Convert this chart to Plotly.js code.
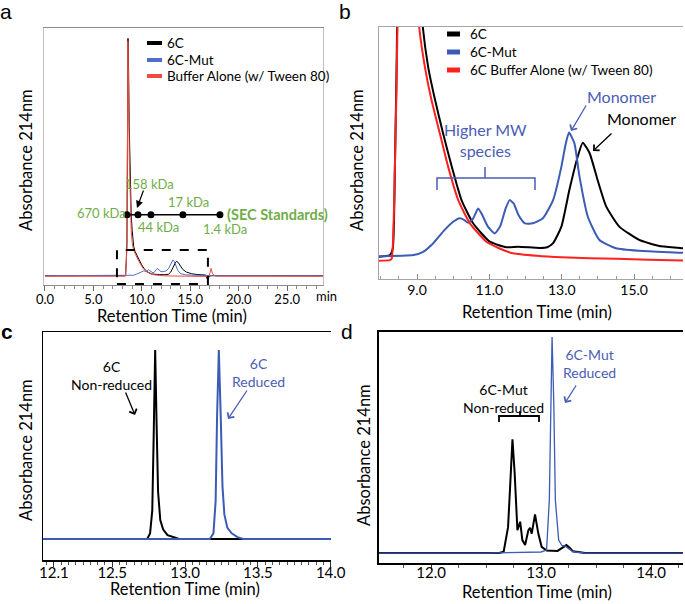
<!DOCTYPE html>
<html><head><meta charset="utf-8">
<script src="https://cdn.plot.ly/plotly-3.0.1.min.js"></script>
<style>html,body{margin:0;padding:0;background:#fff}#chart{width:685px;height:604px}</style>
</head><body><div id="chart"></div>
<script>
// ---------- Panels a & b : SEC chromatograms (same runs) ----------
const t6C = [0, 8.25, 8.33, 8.39, 8.46, 8.52, 8.57, 8.63, 8.7, 8.8, 8.9, 9.0, 9.08, 9.16, 9.31, 9.5, 9.72, 9.96, 10.23, 10.55, 11.01, 11.47, 11.8, 12.39, 12.6, 12.76, 12.99, 13.21, 13.44, 13.58, 13.77, 13.99, 14.23, 14.59, 15.14, 15.69, 16.34, 16.6, 16.8, 16.95, 17.2, 28.8];
const a6C = [9.5, 9.5, 12, 45, 110, 450, 745, 650, 470, 300, 200, 150, 118, 100, 84, 71, 57.8, 44.6, 31.3, 22.1, 14.8, 12.6, 12.8, 12.3, 12.6, 14.2, 20.8, 35.3, 48.5, 54.1, 49.9, 39.3, 28.7, 20.8, 15.5, 13.1, 12.2, 11.5, -5, 8, 9.5, 9.5];

const tMut = [0, 8.9, 9.17, 9.45, 9.72, 10.0, 10.18, 10.3, 10.41, 10.55, 10.69, 10.8, 10.95, 11.15, 11.3, 11.45, 11.56, 11.67, 11.8, 11.98, 12.2, 12.48, 12.76, 12.99, 13.1, 13.2, 13.35, 13.49, 13.72, 14.04, 14.5, 15.14, 16.34, 16.8, 17.1, 28.8];
const aMut = [9.5, 9.5, 10.8, 14.2, 18.8, 22.7, 24.1, 23.5, 22.3, 24, 28.0, 25.5, 21, 18.1, 21, 28, 31.3, 30, 25.5, 22.1, 22.1, 24.1, 31.3, 44.6, 53, 58.1, 53.8, 40.6, 24.7, 15.5, 12.2, 11.2, 10.4, 10, 9.5, 9.5];

const tBuf = [0, 8.25, 8.30, 8.39, 8.46, 8.52, 8.56, 8.62, 8.7, 8.8, 8.9, 9.0, 9.06, 9.22, 9.40, 9.63, 9.86, 10.14, 10.46, 10.92, 11.3, 11.65, 12.3, 12.99, 14.5, 16.34, 16.9, 17.05, 17.15, 17.3, 17.6, 28.8];
const aBuf = [7.5, 7.5, 8, 44.6, 100, 430, 735, 620, 380, 220, 150, 112, 100, 84, 71, 57.8, 44.6, 31.3, 22.1, 14.8, 12, 10.2, 9.2, 8.6, 8, 7.3, 7, 20, 32, 15, 8, 7.5];

// SEC standards
const stdTimes = [8.46, 9.6, 10.94, 14.24, 18.06];
const stdLevel = [198, 198, 198, 198, 198];
const stdLabels = ['670 kDa', '158 kDa', '44 kDa', '17 kDa', '1.4 kDa'];

const legendA = ['6C', '6C-Mut', 'Buffer Alone (w/ Tween 80)'];
const legendB = ['6C', '6C-Mut', '6C Buffer Alone (w/ Tween 80)'];

// ---------- Panel c : 6C non-reduced vs reduced ----------
const tC_non = [12.025, 12.3, 12.6, 12.74, 12.76, 12.775, 12.785, 12.795, 12.805, 12.815, 12.83, 12.85, 12.88, 12.92, 12.96, 13.3, 13.7, 14.002];
const aC_non = [0, 0, 0, 0, 3, 15, 55, 100, 60, 25, 10, 5, 2, 0.8, 0, 0, 0, 0];
const tC_red = [12.025, 12.5, 13.0, 13.17, 13.195, 13.21, 13.22, 13.232, 13.245, 13.257, 13.27, 13.29, 13.32, 13.36, 13.40, 13.7, 14.002];
const aC_red = [0, 0, 0, 0, 3, 20, 65, 100, 65, 28, 13, 6, 3, 1, 0, 0, 0];
const ticksC = [12.1, 12.5, 13.0, 13.5, 14.0];
const tickTextC = ['12.1', '12.5', '13.0', '13.5', '14.0'];

// ---------- Panel d : 6C-Mut non-reduced vs reduced ----------
const tD_non = [11.527, 12.0, 12.4, 12.62, 12.66, 12.69, 12.70, 12.72, 12.74, 12.76, 12.785, 12.81, 12.83, 12.855, 12.885, 12.90, 12.915, 12.945, 12.975, 13.005, 13.05, 13.15, 13.2, 13.23, 13.26, 13.29, 13.4, 14.29];
const aD_non = [0, 0, 0, 0, 0.6, 9, 12, 32, 52.6, 37, 10.6, 14.5, 6, 3.7, 10.6, 11.7, 9, 17.9, 9, 2.9, 1.2, 1.0, 2.5, 3.7, 2.5, 0.8, 0, 0];
const tD_red = [11.527, 12.0, 12.5, 13.0, 13.05, 13.075, 13.09, 13.10, 13.115, 13.13, 13.16, 13.19, 13.22, 13.25, 13.29, 13.4, 14.29];
const aD_red = [0, 0, 0, 0.5, 1.4, 24.5, 71, 100, 71, 24.5, 6, 3.5, 3.2, 2.0, 0.6, 0, 0];

// ---------- styling ----------
const W = 685, H = 604;
const px = x => x / W, py = y => 1 - y / H;
const FONT = 'Lato, "Open Sans", sans-serif';
const BLACK = '#000000', BLUE_A = '#4d6fcc', RED_A = '#f04a40';
const BLUE = '#3b5bb6', RED = '#ff2020', GREEN = '#70ad47', ABLUE = '#4a5eb5';
const TXT = '#000';

const traces = [
  {x: t6C, y: a6C, xaxis: 'x', yaxis: 'y', name: legendA[0], mode: 'lines', line: {color: BLACK, width: 1}},
  {x: tMut, y: aMut, xaxis: 'x', yaxis: 'y', name: legendA[1], mode: 'lines', line: {color: BLUE_A, width: 1}},
  {x: tBuf, y: aBuf, xaxis: 'x', yaxis: 'y', name: legendA[2], mode: 'lines', line: {color: RED_A, width: 1}},
  {x: stdTimes, y: stdLevel, xaxis: 'x', yaxis: 'y', name: 'SEC Standards', mode: 'lines+markers',
   line: {color: BLACK, width: 1.5}, marker: {color: BLACK, size: 7}},

  {x: t6C, y: a6C, xaxis: 'x2', yaxis: 'y2', name: legendB[0], mode: 'lines', line: {color: BLACK, width: 2, shape: 'spline', smoothing: 0.5}},
  {x: tMut, y: aMut, xaxis: 'x2', yaxis: 'y2', name: legendB[1], mode: 'lines', line: {color: BLUE, width: 2, shape: 'spline', smoothing: 0.5}},
  {x: tBuf, y: aBuf, xaxis: 'x2', yaxis: 'y2', name: legendB[2], mode: 'lines', line: {color: RED, width: 2, shape: 'spline', smoothing: 0.5}},

  {x: tC_non, y: aC_non, xaxis: 'x3', yaxis: 'y3', name: '6C Non-reduced', mode: 'lines', line: {color: BLACK, width: 2}},
  {x: tC_red, y: aC_red, xaxis: 'x3', yaxis: 'y3', name: '6C Reduced', mode: 'lines', line: {color: BLUE, width: 2}},

  {x: tD_non, y: aD_non, xaxis: 'x4', yaxis: 'y4', name: '6C-Mut Non-reduced', mode: 'lines', line: {color: BLACK, width: 2}},
  {x: tD_red, y: aD_red, xaxis: 'x4', yaxis: 'y4', name: '6C-Mut Reduced', mode: 'lines', line: {color: BLUE, width: 1.3}}
];

const noY = {showticklabels: false, ticks: '', showgrid: false, zeroline: false, fixedrange: true};
const baseX = {showgrid: false, zeroline: false, fixedrange: true};

const annotations = [];
function txt(x, y, text, opt) {
  annotations.push(Object.assign({xref: 'paper', yref: 'paper', x: px(x), y: py(y), text: text, showarrow: false,
    xanchor: 'center', yanchor: 'middle', font: {family: FONT, size: 14, color: TXT}}, opt || {}));
}
function arrow(hx, hy, tx, ty, color, head, w) {
  annotations.push({xref: 'paper', yref: 'paper', x: px(hx), y: py(hy), ax: tx - hx, ay: ty - hy,
    axref: 'pixel', ayref: 'pixel', text: '', showarrow: true, arrowhead: head, arrowsize: 1.2,
    arrowwidth: w || 1.3, arrowcolor: color});
}

// panel letters
txt(6, 11, 'a', {font: {family: 'Liberation Sans, Arial', size: 21, color: '#000'}});
txt(345, 11, 'b', {font: {family: 'Liberation Sans, Arial', size: 21, color: '#000'}});
txt(7, 331, '<b>c</b>', {font: {family: 'Liberation Sans, Arial', size: 21, color: '#000'}});
txt(347, 331, 'd', {font: {family: 'Liberation Sans, Arial', size: 21, color: '#000'}});

// axis titles
const ttl = {family: FONT, size: 16.5, color: TXT};
txt(26, 160, 'Absorbance 214nm', {textangle: -90, font: ttl});
txt(357, 160, 'Absorbance 214nm', {textangle: -90, font: ttl});
txt(26, 450, 'Absorbance 214nm', {textangle: -90, font: ttl});
txt(364, 455, 'Absorbance 214nm', {textangle: -90, font: ttl});
txt(172, 316, 'Retention Time (min)', {font: ttl});
txt(537, 312, 'Retention Time (min)', {font: ttl});
txt(185, 589, 'Retention Time (min)', {font: ttl});
txt(537, 592, 'Retention Time (min)', {font: ttl});
txt(326, 296, 'min', {font: {family: FONT, size: 13, color: TXT}});

// legends (manual)
const shapes = [];
[BLACK, BLUE_A, RED_A].forEach((c, i) => {
  const yy = [43, 60, 76][i];
  shapes.push({type: 'line', xref: 'paper', yref: 'paper', x0: px(147), x1: px(162), y0: py(yy), y1: py(yy), line: {color: c, width: 4}});
  txt(165, yy, legendA[i], {xanchor: 'left', font: {family: FONT, size: 13.5, color: TXT}});
});
[BLACK, BLUE, RED].forEach((c, i) => {
  const yy = [34, 52, 70][i];
  shapes.push({type: 'line', xref: 'paper', yref: 'paper', x0: px(447), x1: px(460), y0: py(yy), y1: py(yy), line: {color: c, width: 5}});
  txt(468, yy, legendB[i], {xanchor: 'left', font: {family: FONT, size: 13.5, color: TXT}});
});

// SEC standards labels
const stdShift = [[-25, 2], [12, 31], [8, -12], [6, 13], [5, -14]];
stdTimes.forEach((t, i) => {
  annotations.push({xref: 'x', yref: 'y', x: t, y: stdLevel[i], text: stdLabels[i], showarrow: false,
    xshift: stdShift[i][0], yshift: stdShift[i][1], xanchor: 'center', yanchor: 'middle',
    font: {family: FONT, size: 13, color: GREEN}});
});
annotations.push({xref: 'x', yref: 'y', x: stdTimes[4], y: stdLevel[4], text: '<b>(SEC Standards)</b>', showarrow: false,
  xshift: 5, yshift: 0, xanchor: 'left', yanchor: 'middle', font: {family: FONT, size: 14.5, color: GREEN}});
arrow(137, 208, 144, 189, BLACK, 2, 1.2);

// dashed zoom box in panel a
shapes.push({type: 'rect', xref: 'x', yref: 'y', x0: 7.43, x1: 16.82, y0: -16, y1: 89,
  line: {color: BLACK, width: 2, dash: 'dash'}});

// panel b annotations
txt(485, 140, 'Higher MW<br>species', {font: {family: FONT, size: 16, color: ABLUE}});
shapes.push({type: 'path', xref: 'paper', yref: 'paper',
  path: `M${px(437)},${py(190)} L${px(437)},${py(178)} L${px(535)},${py(178)} L${px(535)},${py(190)} M${px(485)},${py(178)} L${px(485)},${py(167)}`,
  line: {color: ABLUE, width: 1.5}});
txt(621, 97, 'Monomer', {font: {family: FONT, size: 16, color: ABLUE}});
txt(641, 118, 'Monomer', {font: {family: FONT, size: 16, color: TXT}});
arrow(571, 131, 587, 104, ABLUE, 4, 1.3);
arrow(593, 151, 613, 132, BLACK, 4, 1.3);

// panel c annotations
txt(111, 375, '6C<br>Non-reduced', {font: {family: FONT, size: 14, color: TXT}});
arrow(135, 415, 125, 391, BLACK, 4, 1.3);
txt(258, 372, '6C<br>Reduced', {font: {family: FONT, size: 14, color: ABLUE}});
arrow(228, 419, 248, 389, ABLUE, 4, 1.3);

// panel d annotations
txt(503, 398, '6C-Mut<br>Non-reduced', {font: {family: FONT, size: 14, color: TXT}});
shapes.push({type: 'path', xref: 'paper', yref: 'paper',
  path: `M${px(499)},${py(422)} L${px(499)},${py(416)} L${px(539)},${py(416)} L${px(539)},${py(422)} M${px(520)},${py(416)} L${px(520)},${py(411)}`,
  line: {color: BLACK, width: 1.8}});
txt(589, 363, '6C-Mut<br>Reduced', {font: {family: FONT, size: 14, color: ABLUE}});
arrow(565, 403, 577, 384, ABLUE, 4, 1.3);

const layout = {
  width: W, height: H, margin: {l: 0, r: 0, t: 0, b: 0},
  paper_bgcolor: '#fff', plot_bgcolor: '#fff', showlegend: false,
  xaxis: Object.assign({}, baseX, {domain: [px(44), px(323)], range: [-0.1, 28.7], anchor: 'y',
    showline: true, linecolor: '#8c8c8c', linewidth: 1, mirror: true,
    ticks: 'outside', ticklen: 5, tickcolor: '#666', dtick: 5, tick0: 0, tickformat: '.1f', ticklabelstandoff: -3,
    minor: {dtick: 1, ticks: 'outside', ticklen: 3, tickcolor: '#888'}, tickfont: {family: FONT, size: 13, color: TXT}}),
  yaxis: Object.assign({}, noY, {domain: [py(285), py(28)], range: [-19.4, 777], anchor: 'x',
    showline: true, linecolor: '#c0c0c0', linewidth: 1, mirror: true}),

  xaxis2: Object.assign({}, baseX, {domain: [px(379), px(683)], range: [7.95, 16.35], anchor: 'y2',
    showline: true, linecolor: '#a6a6a6', linewidth: 1, mirror: true,
    ticks: 'inside', ticklen: 5, tickcolor: '#888', dtick: 2, tick0: 9, tickformat: '.1f', ticklabelstandoff: -2,
    minor: {dtick: 0.5, ticks: 'inside', ticklen: 3, tickcolor: '#999'}, tickfont: {family: FONT, size: 14, color: TXT}}),
  yaxis2: Object.assign({}, noY, {domain: [py(279), py(27)], range: [0, 100], anchor: 'x2',
    showline: true, linecolor: '#a6a6a6', linewidth: 1}),

  xaxis3: Object.assign({}, baseX, {domain: [px(43), px(331)], range: [12.025, 14.002], anchor: 'y3',
    showline: true, linecolor: BLACK, linewidth: 1.5, mirror: true,
    ticks: 'outside', ticklen: 5, tickcolor: '#333', tickvals: ticksC, ticktext: tickTextC, ticklabelstandoff: -7,
    minor: {dtick: 0.05, ticks: 'outside', ticklen: 3, tickcolor: '#555'}, tickfont: {family: FONT, size: 15, color: TXT}}),
  yaxis3: Object.assign({}, noY, {domain: [py(560), py(332)], range: [-11.1, 109.5], anchor: 'x3',
    showline: true, linecolor: BLACK, linewidth: 1.5}),

  xaxis4: Object.assign({}, baseX, {domain: [px(379), px(683)], range: [11.527, 14.29], anchor: 'y4',
    showline: true, linecolor: BLACK, linewidth: 2, mirror: true,
    ticks: 'outside', ticklen: 5, tickcolor: '#333', dtick: 1, tick0: 12, tickformat: '.1f', ticklabelstandoff: -10,
    minor: {dtick: 0.25, ticks: 'outside', ticklen: 3, tickcolor: '#555'}, tickfont: {family: FONT, size: 15, color: TXT}}),
  yaxis4: Object.assign({}, noY, {domain: [py(563), py(332)], range: [-4.6, 102.3], anchor: 'x4',
    showline: true, linecolor: BLACK, linewidth: 2}),

  annotations: annotations, shapes: shapes
};

Plotly.newPlot('chart', traces, layout, {displayModeBar: false, staticPlot: true});
</script></body></html>
